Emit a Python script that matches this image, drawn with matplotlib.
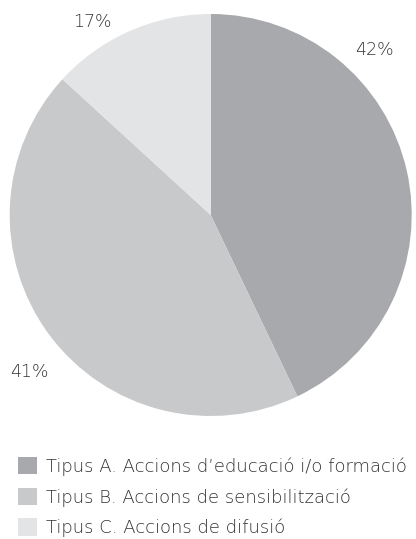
import numpy as np
import matplotlib
matplotlib.use("Agg")
from matplotlib import pyplot as plt

# values as drawn (angles) and the printed labels
categories = ["Tipus A. Accions d\u2019educació i/o formació",
              "Tipus B. Accions de sensibilització",
              "Tipus C. Accions de difusió"]
shares = [42.9, 43.9, 13.2]
pct_labels = ["42%", "41%", "17%"]
colors = ["#a8a9ac", "#c8c9cb", "#e3e4e5"]

plt.rcParams['font.family'] = ['DejaVu Sans']
text_color = "#333333"

fig = plt.figure(figsize=(4.16, 5.39), dpi=100)
W, H = 416, 539
cx, cy, r = 210.7, 215, 201
ax = fig.add_axes([(cx - r) / W, (H - cy - r) / H, 2 * r / W, 2 * r / H])

wedges, _ = ax.pie(shares, colors=colors, startangle=90, counterclock=False,
                   radius=1, wedgeprops=dict(linewidth=0))
ax.set_xlim(-1, 1)
ax.set_ylim(-1, 1)
ax.set_aspect('equal')
ax.axis('off')

# percentage labels, placed where the original puts them (pixel positions)
label_pos = [(374, 50), (29, 372), (92, 22)]
for txt, (px, py) in zip(pct_labels, label_pos):
    fig.text(px / W, 1 - py / H, txt, ha='center', va='center',
             fontsize=12.5, color=text_color, fontweight='light')

leg = fig.legend(wedges, categories, loc='upper left',
                 bbox_to_anchor=(18 / W, 1 - 457 / H), frameon=False,
                 fontsize=13.0, handlelength=1.05, handleheight=1.1,
                 handletextpad=0.5, labelspacing=0.66, borderpad=0,
                 borderaxespad=0)
for t in leg.get_texts():
    t.set_color(text_color)
    t.set_fontweight('light')

plt.savefig('out.png', dpi=100)
